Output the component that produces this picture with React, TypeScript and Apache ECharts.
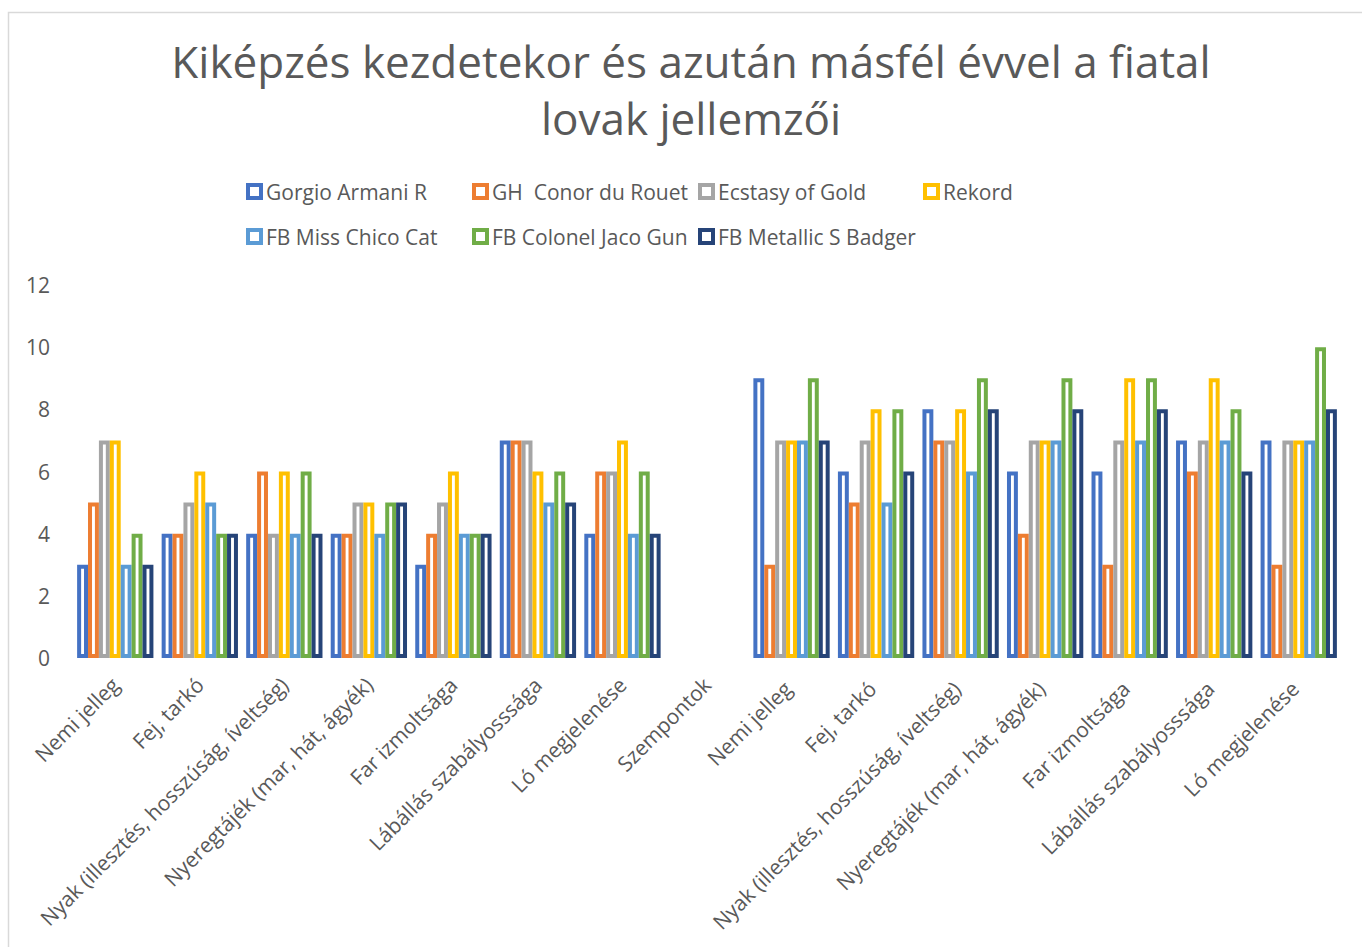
import React, { useEffect, useRef } from "react";
import * as echarts from "echarts";

const categories = [
  "Nemi jelleg",
  "Fej, tarkó",
  "Nyak (illesztés, hosszúság, íveltség)",
  "Nyeregtájék (mar, hát, ágyék)",
  "Far izmoltsága",
  "Lábállás szabályosssága",
  "Ló megjelenése",
  "Szempontok",
  "Nemi jelleg ",
  "Fej, tarkó ",
  "Nyak (illesztés, hosszúság, íveltség) ",
  "Nyeregtájék (mar, hát, ágyék) ",
  "Far izmoltsága ",
  "Lábállás szabályosssága ",
  "Ló megjelenése ",
];

const seriesNames = [
  "Gorgio Armani R",
  "GH  Conor du Rouet",
  "Ecstasy of Gold",
  "Rekord",
  "FB Miss Chico Cat",
  "FB Colonel Jaco Gun",
  "FB Metallic S Badger",
];

const colors = ["#4472C4", "#ED7D31", "#A5A5A5", "#FFC000", "#5B9BD5", "#70AD47", "#264478"];

const gorgio = [3, 4, 4, 4, 3, 7, 4, null, 9, 6, 8, 6, 6, 7, 7];
const conor = [5, 4, 6, 4, 4, 7, 6, null, 3, 5, 7, 4, 3, 6, 3];
const ecstasy = [7, 5, 4, 5, 5, 7, 6, null, 7, 7, 7, 7, 7, 7, 7];
const rekord = [7, 6, 6, 5, 6, 6, 7, null, 7, 8, 8, 7, 9, 9, 7];
const chico = [3, 5, 4, 4, 4, 5, 4, null, 7, 5, 6, 7, 7, 7, 7];
const jaco = [4, 4, 6, 5, 4, 6, 6, null, 9, 8, 9, 9, 9, 8, 10];
const badger = [3, 4, 4, 5, 4, 5, 4, null, 7, 6, 8, 8, 8, 6, 8];

const seriesData = [gorgio, conor, ecstasy, rekord, chico, jaco, badger];

const legendPos = [
  [241, 176],
  [467, 176],
  [693, 176],
  [918, 176],
  [241, 221],
  [467, 221],
  [693, 221],
];

export default function App() {
  const ref = useRef<HTMLDivElement>(null);
  useEffect(() => {
    if (!ref.current) return;
    const chart = echarts.init(ref.current, null, { renderer: "svg" });
    const font = "'Open Sans', 'Noto Sans', sans-serif";
    chart.setOption({
      animation: false,
      backgroundColor: "#fff",
      textStyle: { fontFamily: font },
      title: {
        text: "Kiképzés kezdetekor és azután másfél évvel a fiatal\nlovak jellemzői",
        left: 686,
        top: 27,
        textAlign: "center",
        textStyle: {
          fontFamily: font,
          fontSize: 44,
          fontWeight: "normal",
          color: "#595959",
          lineHeight: 57,
        },
      },
      legend: seriesNames.map((n, i) => ({
        data: [n],
        left: legendPos[i][0],
        top: legendPos[i][1],
        itemWidth: 13,
        itemHeight: 13,
        itemGap: 0,
        icon: "rect",
        textStyle: { fontFamily: font, fontSize: 21, color: "#595959", padding: [0, 0, 0, 0] },
        itemStyle: { borderWidth: 4 },
        selectedMode: false,
      })),
      graphic: [
        {
          type: "rect",
          shape: { x: 8.5, y: 12.5, width: 1400, height: 1000 },
          style: { fill: "none", stroke: "#d9d9d9", lineWidth: 1.5 },
          silent: true,
        },
      ],
      grid: { left: 73, right: 21, top: 285, bottom: 289, containLabel: false },
      xAxis: {
        type: "category",
        data: categories,
        axisLine: { show: false },
        axisTick: { show: false },
        axisLabel: {
          rotate: 45,
          interval: 0,
          margin: 23,
          fontSize: 21,
          color: "#595959",
          fontFamily: font,
        },
      },
      yAxis: {
        type: "value",
        min: 0,
        max: 12,
        interval: 2,
        axisLine: { show: false },
        axisTick: { show: false },
        splitLine: { show: false },
        axisLabel: { fontSize: 21, color: "#595959", margin: 23, fontFamily: font },
      },
      series: seriesNames.map((n, i) => ({
        name: n,
        type: "bar",
        data: seriesData[i],
        barWidth: 10.9,
        barGap: 0,
        itemStyle: { color: "#fff", borderColor: colors[i], borderWidth: 4 },
      })),
    });
    return () => chart.dispose();
  }, []);
  return (
    <div
      ref={ref}
      style={{ position: "fixed", left: 0, top: 0, width: 1362, height: 947 }}
    />
  );
}
